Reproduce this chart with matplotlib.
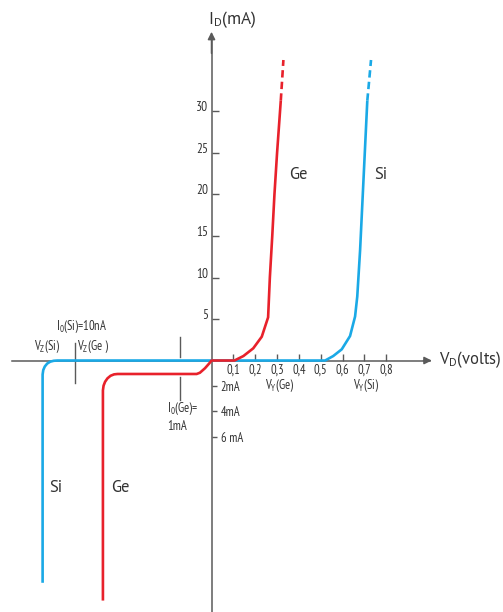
import numpy as np
import matplotlib
matplotlib.use("Agg")
import matplotlib.pyplot as plt

plt.rcParams['font.family'] = ['PT Sans Narrow', 'DejaVu Sans']
BIG = ['PT Sans', 'DejaVu Sans']

# ---- data (V in volts, I in mA; reverse region drawn schematically) ----
si_v = [-0.773, -0.773, -0.770, -0.763, -0.752, -0.738, -0.722, -0.705, 0.0, 0.520, 0.557, 0.596, 0.634, 0.657, 0.667, 0.680, 0.713]
si_i = [-17.5, -1.1, -0.75, -0.47, -0.24, -0.09, -0.02, 0.0, 0.0, 0.0, 0.54, 1.35, 2.95, 5.3, 7.7, 13.3, 31.3]
si_dash_v = [0.713, 0.730]
si_dash_i = [31.3, 36.2]

ge_v = [-0.497, -0.497, -0.494, -0.487, -0.476, -0.462, -0.446, -0.430, -0.068, -0.053, -0.030, -0.010, 0.0,
        0.105, 0.146, 0.191, 0.230, 0.259, 0.267, 0.278, 0.288, 0.300, 0.317]
ge_i = [-18.9, -2.35, -1.98, -1.67, -1.40, -1.20, -1.09, -1.06, -1.06, -0.96, -0.61, -0.22, 0.0,
        0.0, 0.54, 1.47, 2.87, 5.2, 10.0, 15.0, 20.0, 25.0, 31.3]
ge_dash_v = [0.317, 0.329]
ge_dash_i = [31.3, 36.2]

x_ticks = [0.1, 0.2, 0.3, 0.4, 0.5, 0.6, 0.7, 0.8]
x_ticklabels = ['0,1', '0,2', '0,3', '0,4', '0,5', '0,6', '0,7', '0,8']
y_ticks = [5, 10, 15, 20, 25, 30]
y_ticklabels = ['5', '10', '15', '20', '25', '30']
yneg_ticks = [-2, -4, -6]
yneg_ticklabels = ['2mA', '4mA', '6 mA']

RED = '#e8212b'
BLUE = '#1aa9e6'
AX = '#5a5a5a'
TXT = '#333333'

k = 1.53  # reverse-current axis is stretched


def fwd(y):
    y = np.asarray(y, dtype=float)
    return np.where(y < 0, k * y, y)


def inv(y):
    y = np.asarray(y, dtype=float)
    return np.where(y < 0, y / k, y)


fig = plt.figure(figsize=(5.03, 6.12), dpi=100)
ax = fig.add_axes([0, 0, 1, 1])
ax.set_yscale('function', functions=(fwd, inv))
ax.set_xlim(-0.968, 1.334)
ax.set_ylim(-19.8, 43.43)
ax.patch.set_alpha(0)

# axes through origin
ax.spines['top'].set_visible(False)
ax.spines['bottom'].set_position(('data', 0))
ax.spines['bottom'].set_bounds(-0.915, 1.0)
ax.spines['left'].set_position(('data', 0))
ax.spines['left'].set_bounds(-19.8, 39.0)
ax.spines['right'].set_position(('data', 0))
ax.spines['right'].set_color('none')
for s in ('bottom', 'left'):
    ax.spines[s].set_color(AX)
    ax.spines[s].set_linewidth(1.1)

ax.set_xticks(x_ticks)
ax.set_xticklabels(x_ticklabels)
ax.tick_params(axis='x', direction='in', length=5, width=1.0, color=AX,
               pad=2, labelsize=9, labelcolor=TXT)

ax.set_yticks(y_ticks)
ax.set_yticklabels(y_ticklabels)
ax.set_yticks(yneg_ticks, minor=True)
ax.set_yticklabels(yneg_ticklabels, minor=True)
ax.tick_params(axis='y', which='major', left=True, right=False, labelleft=True, labelright=False,
               direction='in', length=5, width=1.0, color=AX, pad=2.5, labelsize=9.5, labelcolor=TXT)
ax.tick_params(axis='y', which='minor', left=False, right=True, labelleft=False, labelright=True,
               direction='out', length=3.6, width=1.0, color=AX, pad=3, labelsize=9, labelcolor=TXT)
for lab in ax.get_yticklabels():
    lab.set_verticalalignment('baseline')

# arrow heads
ax.annotate('', xy=(1.008, 0), xytext=(0.97, 0),
            arrowprops=dict(arrowstyle='-|>', color=AX, lw=1.1, mutation_scale=11, shrinkA=0, shrinkB=0))
ax.annotate('', xy=(0, 39.6), xytext=(0, 37.0),
            arrowprops=dict(arrowstyle='-|>', color=AX, lw=1.1, mutation_scale=11, shrinkA=0, shrinkB=0))

# curves
ax.plot(si_v, si_i, color=BLUE, lw=1.9, zorder=3, solid_capstyle='butt', solid_joinstyle='round')
ax.plot(si_dash_v, si_dash_i, color=BLUE, lw=1.9, zorder=3, linestyle=(0, (2.8, 1.6)))
ax.plot(ge_v, ge_i, color=RED, lw=1.9, zorder=4, solid_capstyle='butt', solid_joinstyle='round')
ax.plot(ge_dash_v, ge_dash_i, color=RED, lw=1.9, zorder=4, linestyle=(0, (2.8, 1.6)))

# marker lines
ax.plot([-0.624, -0.624], [2.1, -1.77], color=AX, lw=1.0, zorder=2)
ax.plot([-0.144, -0.144], [2.87, 0.46], color=AX, lw=1.0, zorder=2)
ax.plot([-0.144, -0.144], [-1.28, -3.11], color=AX, lw=1.0, zorder=2)

# labels
ax.text(-0.016, 40.55, r'$\mathregular{I_D}$(mA)', fontsize=12.5, color=TXT, ha='left', va='baseline', family=BIG)
ax.text(1.041, -0.3, r'$\mathregular{V_D}$(volts)', fontsize=12, color=TXT, ha='left', va='baseline', family=BIG)
ax.text(0.398, 22.35, 'Ge', fontsize=12, color=TXT, ha='center', va='center', family=BIG)
ax.text(0.776, 22.35, 'Si', fontsize=12, color=TXT, ha='center', va='center', family=BIG)
ax.text(-0.712, -10.04, 'Si', fontsize=12, color=TXT, ha='center', va='center', family=BIG)
ax.text(-0.416, -10.04, 'Ge', fontsize=12, color=TXT, ha='center', va='center', family=BIG)
ax.text(-0.597, 4.07, r'$\mathregular{I_0}$(Si)=10nA', fontsize=9, color=TXT, ha='center', va='center')
ax.text(-0.755, 1.66, r'$\mathregular{V_Z}$(Si)', fontsize=9, color=TXT, ha='center', va='center')
ax.text(-0.617, 1.66, r'$\mathregular{V_Z}$(Ge )', fontsize=9, color=TXT, ha='left', va='center')
ax.text(-0.205, -3.74, r'$\mathregular{I_0}$(Ge)=', fontsize=9, color=TXT, ha='left', va='center')
ax.text(-0.204, -5.21, '1mA', fontsize=9, color=TXT, ha='left', va='center')
ax.text(0.311, -1.95, r'$\mathregular{V_Y}$(Ge)', fontsize=9, color=TXT, ha='center', va='center')
ax.text(0.707, -1.95, r'$\mathregular{V_Y}$(Si)', fontsize=9, color=TXT, ha='center', va='center')

fig.savefig('out.png', dpi=100, facecolor='white')
